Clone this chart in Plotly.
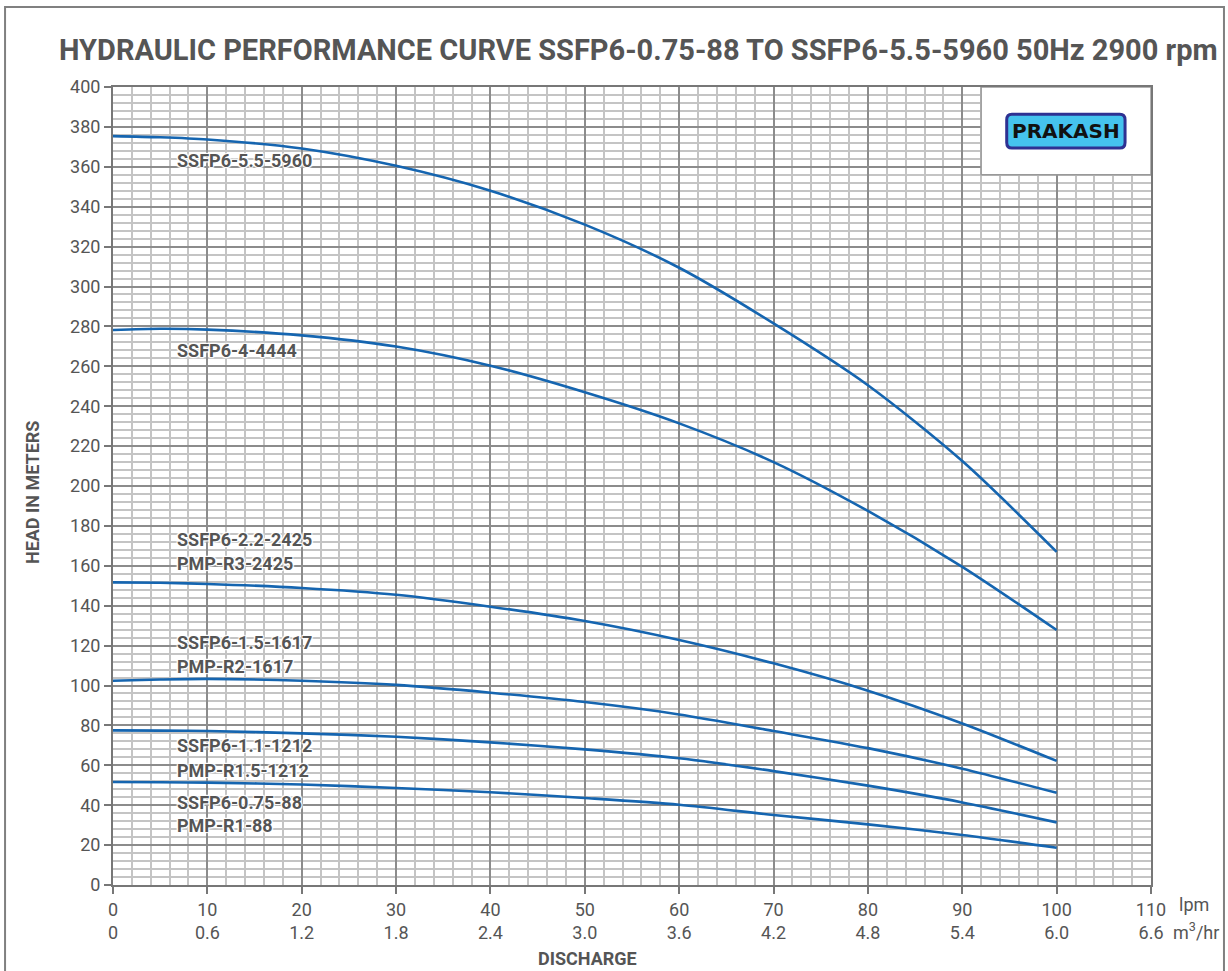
import plotly.graph_objects as go

# ---------------- data ----------------
discharge_lpm = [0, 5, 10, 20, 30, 40, 50, 60, 70, 80, 90, 100]
head_ssfp6_55_5960 = [375.4, 374.8, 373.7, 369.2, 360.5, 348.0, 331.0, 309.4, 281.5, 250.5, 212.5, 167.0]
head_ssfp6_4_4444 = [278.2, 278.8, 278.4, 275.5, 269.9, 260.3, 247.0, 231.4, 212.0, 187.5, 159.5, 127.8]
head_ssfp6_22_2425 = [151.7, 151.5, 150.9, 148.9, 145.5, 139.5, 132.3, 122.8, 111.1, 97.4, 81.0, 62.2]
head_ssfp6_15_1617 = [102.4, 103.0, 103.3, 102.4, 100.3, 96.4, 91.7, 85.5, 77.2, 68.6, 58.3, 46.2]
head_ssfp6_11_1212 = [77.5, 77.4, 77.2, 76.0, 74.3, 71.5, 68.0, 63.5, 57.1, 49.8, 41.4, 31.4]
head_ssfp6_075_88 = [51.6, 51.5, 51.3, 50.4, 48.6, 46.5, 43.6, 40.2, 35.1, 30.4, 25.1, 18.7]

series = [
    ("SSFP6-5.5-5960", head_ssfp6_55_5960),
    ("SSFP6-4-4444", head_ssfp6_4_4444),
    ("SSFP6-2.2-2425", head_ssfp6_22_2425),
    ("SSFP6-1.5-1617", head_ssfp6_15_1617),
    ("SSFP6-1.1-1212", head_ssfp6_11_1212),
    ("SSFP6-0.75-88", head_ssfp6_075_88),
]

x_tick_vals = [0, 10, 20, 30, 40, 50, 60, 70, 80, 90, 100, 110]
x_tick_lpm = ["0", "10", "20", "30", "40", "50", "60", "70", "80", "90", "100", "110"]
x_tick_m3hr = ["0", "0.6", "1.2", "1.8", "2.4", "3.0", "3.6", "4.2", "4.8", "5.4", "6.0", "6.6"]

curve_labels = [
    ("SSFP6-5.5-5960", 363),
    ("SSFP6-4-4444", 268),
    ("SSFP6-2.2-2425", 173.4),
    ("PMP-R3-2425", 161.4),
    ("SSFP6-1.5-1617", 121.8),
    ("PMP-R2-1617", 109.3),
    ("SSFP6-1.1-1212", 69.7),
    ("PMP-R1.5-1212", 57.6),
    ("SSFP6-0.75-88", 41.6),
    ("PMP-R1-88", 29.6),
]

title_text = "HYDRAULIC PERFORMANCE CURVE SSFP6-0.75-88 TO SSFP6-5.5-5960 50Hz 2900 rpm"

# ---------------- style ----------------
COND = "Roboto, Liberation Sans Narrow, sans-serif"
TXT = "#555555"
BLUE = "#1565b0"
HALO = "1px 1px 1px white, -1px -1px 1px white, 1px -1px 1px white, -1px 1px 1px white, 0px 0px 3px white"

fig = go.Figure()
for name, h in series:
    fig.add_trace(go.Scatter(
        x=discharge_lpm, y=h, mode="lines", name=name,
        line=dict(color=BLUE, width=2.6, shape="spline", smoothing=0.8),
        showlegend=False, hoverinfo="x+y+name",
    ))

annotations = []
annotations.append(dict(
    text=f"<b>{title_text}</b>", xref="paper", yref="paper", x=0.5067, y=1.0464,
    xanchor="center", yanchor="middle", showarrow=False,
    font=dict(family=COND, size=29, color=TXT),
))
for lab, yv in curve_labels:
    annotations.append(dict(
        text=f"<b>{lab}</b>", xref="x", yref="y", x=6.57, y=yv,
        xanchor="left", yanchor="middle", showarrow=False,
        font=dict(family=COND, size=18, color=TXT, shadow=HALO),
    ))
annotations.append(dict(
    text="<b>HEAD IN METERS</b>", xref="paper", yref="y", x=-0.077, y=197,
    textangle=-90, xanchor="center", yanchor="middle", showarrow=False,
    font=dict(family=COND, size=18, color=TXT),
))
annotations.append(dict(
    text="<b>DISCHARGE</b>", xref="x", yref="paper", x=50.3, y=-0.0915,
    xanchor="center", yanchor="middle", showarrow=False,
    font=dict(family=COND, size=18, color=TXT),
))
annotations.append(dict(
    text="lpm", xref="paper", yref="paper", x=1.025, y=-0.025,
    xanchor="left", yanchor="middle", showarrow=False,
    font=dict(family=COND, size=18, color=TXT),
))
annotations.append(dict(
    text="m<sup>3</sup>/hr", xref="paper", yref="paper", x=1.0195, y=-0.0576,
    xanchor="left", yanchor="middle", showarrow=False,
    font=dict(family=COND, size=18, color=TXT),
))
annotations.append(dict(
    text="<b>PRAKASH</b>", xref="x", yref="y", x=101.0, y=378,
    xanchor="center", yanchor="middle", showarrow=False,
    font=dict(family="DejaVu Sans, sans-serif", size=20, color="#111111"),
))

# badge path (rounded rect) in paper coords
bx0, bx1, by0, by1 = 0.861, 0.975, 0.9236, 0.966
rx, ry = 0.005, 0.007
badge_path = (
    f"M {bx0+rx},{by0} L {bx1-rx},{by0} Q {bx1},{by0} {bx1},{by0+ry} "
    f"L {bx1},{by1-ry} Q {bx1},{by1} {bx1-rx},{by1} "
    f"L {bx0+rx},{by1} Q {bx0},{by1} {bx0},{by1-ry} "
    f"L {bx0},{by0+ry} Q {bx0},{by0} {bx0+rx},{by0} Z"
)

shapes = [
    dict(type="rect", xref="x", yref="y", x0=92, x1=110, y0=356, y1=400,
         fillcolor="white", line=dict(color="#999999", width=1.5), layer="above"),
    dict(type="path", xref="paper", yref="paper", path=badge_path,
         fillcolor="#45c3ee", line=dict(color="#2e3192", width=3), layer="above"),
    dict(type="rect", xref="paper", yref="paper", x0=-0.104, x1=1.0703, y0=-0.2, y1=1.1003,
         fillcolor="rgba(0,0,0,0)", line=dict(color="#808080", width=2), layer="below"),
]

fig.update_layout(
    width=1228, height=971,
    margin=dict(l=113, r=77, t=87, b=86),
    paper_bgcolor="white", plot_bgcolor="white",
    annotations=annotations, shapes=shapes,
    showlegend=False,
)

fig.update_xaxes(
    range=[0, 110], tickmode="array", tickvals=x_tick_vals,
    ticktext=[f"{a}<br>{b}" for a, b in zip(x_tick_lpm, x_tick_m3hr)],
    showgrid=True, gridcolor="#8c8c8c", gridwidth=1.6,
    minor=dict(dtick=2, showgrid=True, gridcolor="#c4c4c4", gridwidth=1.6, ticks=""),
    ticks="outside", ticklen=7, tickcolor="#777777", tickwidth=1.5,
    showline=True, linecolor="#777777", linewidth=2, mirror=True,
    zeroline=False, tickfont=dict(family=COND, size=18, color=TXT),
)
fig.update_yaxes(
    range=[0, 400], dtick=20, tick0=0,
    showgrid=True, gridcolor="#8c8c8c", gridwidth=1.6,
    minor=dict(dtick=4, showgrid=True, gridcolor="#c4c4c4", gridwidth=1.6, ticks=""),
    ticks="outside", ticklen=7, tickcolor="#777777", tickwidth=1.5,
    showline=True, linecolor="#777777", linewidth=2, mirror=True,
    zeroline=False, tickfont=dict(family=COND, size=18, color=TXT),
)

# remove the page's default body margin so the figure sits at the window origin
fig.write_html("out.html", config={"displayModeBar": False},
               post_script="document.body.style.margin='0';")
